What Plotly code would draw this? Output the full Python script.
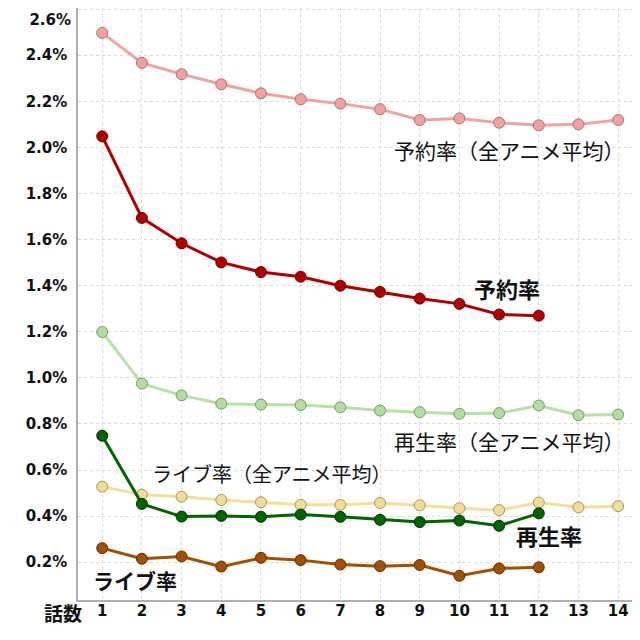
import plotly.graph_objects as go

episodes = list(range(1, 15))
x_ticks = [str(i) for i in episodes]

reserve_avg = [2.497, 2.367, 2.318, 2.274, 2.235, 2.209, 2.190, 2.166, 2.119, 2.126, 2.107, 2.096, 2.100, 2.119]
reserve = [2.048, 1.694, 1.584, 1.501, 1.459, 1.439, 1.400, 1.373, 1.344, 1.321, 1.275, 1.270]
play_avg = [1.199, 0.975, 0.924, 0.888, 0.884, 0.882, 0.872, 0.858, 0.851, 0.844, 0.847, 0.880, 0.838, 0.841]
play = [0.749, 0.453, 0.398, 0.401, 0.397, 0.407, 0.397, 0.384, 0.374, 0.381, 0.358, 0.412]
live_avg = [0.528, 0.493, 0.484, 0.470, 0.460, 0.449, 0.449, 0.457, 0.447, 0.434, 0.426, 0.459, 0.438, 0.443]
live = [0.261, 0.215, 0.225, 0.181, 0.219, 0.209, 0.190, 0.183, 0.188, 0.141, 0.173, 0.178]

y_ticks = [0.2, 0.4, 0.6, 0.8, 1.0, 1.2, 1.4, 1.6, 1.8, 2.0, 2.2, 2.4, 2.6]
y_labels = [f"{v:.1f}%" for v in y_ticks]

series = [
    (reserve_avg, "#F2A2A2", "#F0A0A0", "#B07070", "y2"),
    (play_avg, "#B8E0A8", "#B4DCA0", "#70A060", "y"),
    (live_avg, "#F0E0A0", "#F0DC98", "#A89858", "y"),
    (reserve, "#B00000", "#B00000", "#700000", "y"),
    (play, "#006400", "#006400", "#003300", "y"),
    (live, "#A05000", "#A05000", "#603000", "y"),
]

fig = go.Figure()
for vals, lc, mc, oc, ya in series:
    fig.add_trace(go.Scatter(
        x=episodes[:len(vals)], y=vals, mode="lines+markers", yaxis=ya,
        line=dict(color=lc, width=3),
        marker=dict(size=11, color=mc, line=dict(color=oc, width=1)),
        showlegend=False, hoverinfo="skip", cliponaxis=False))

jp = "Noto Sans CJK JP"
labels = [
    ("予約率（全アニメ平均）", 11.25, 1.988, 21),
    ("<b>予約率</b>", 11.2, 1.389, 22),
    ("再生率（全アニメ平均）", 11.25, 0.726, 21),
    ("ライブ率（全アニメ平均）", 5.29, 0.584, 20),
    ("<b>再生率</b>", 12.26, 0.316, 22),
    ("<b>ライブ率</b>", 1.83, 0.122, 21),
]
for txt, lx, ly, fs in labels:
    fig.add_annotation(text=txt, x=lx, y=ly, xref="x", yref="y", showarrow=False,
                       font=dict(family=jp, size=fs, color="#111111"))

fig.add_annotation(text="<b>話数</b>", x=0.0, y=0.0, xref="paper", yref="paper",
                   xanchor="right", yanchor="middle", xshift=6, yshift=-12,
                   showarrow=False, font=dict(family=jp, size=19, color="#111111"))

tickfont = dict(family="DejaVu Sans", size=15, color="#111111", weight="bold")
y_range = [0.036, 2.605]

fig.update_xaxes(range=[0.39, 14.55], tickvals=episodes, ticktext=x_ticks,
                 showgrid=True, gridcolor="#DADADA", griddash="dot", gridwidth=1,
                 showline=True, linecolor="#B0B0B0", linewidth=1.5, zeroline=False,
                 ticks="", automargin=False, ticklabelstandoff=-4, tickfont=tickfont)
fig.update_layout(
    yaxis=dict(range=y_range, tickvals=y_ticks[:-1], ticktext=y_labels[:-1],
               showgrid=True, gridcolor="#DADADA", griddash="dot", gridwidth=1,
               showline=True, linecolor="#B0B0B0", linewidth=1.5, zeroline=False,
               ticks="", automargin=False, ticklabelstandoff=6, tickfont=tickfont),
    yaxis2=dict(range=y_range, overlaying="y", side="left", anchor="x",
                tickvals=y_ticks[-1:], ticktext=y_labels[-1:],
                showgrid=True, gridcolor="#DADADA", griddash="dot", gridwidth=1,
                showline=False, zeroline=False, ticks="", automargin=False,
                ticklabelposition="outside bottom", ticklabelstandoff=6,
                ticklabeloverflow="allow", tickfont=tickfont),
)

fig.update_layout(width=640, height=640, plot_bgcolor="white", paper_bgcolor="white",
                  margin=dict(l=70, r=8, t=0, b=48))

fig.write_html("out.html")
